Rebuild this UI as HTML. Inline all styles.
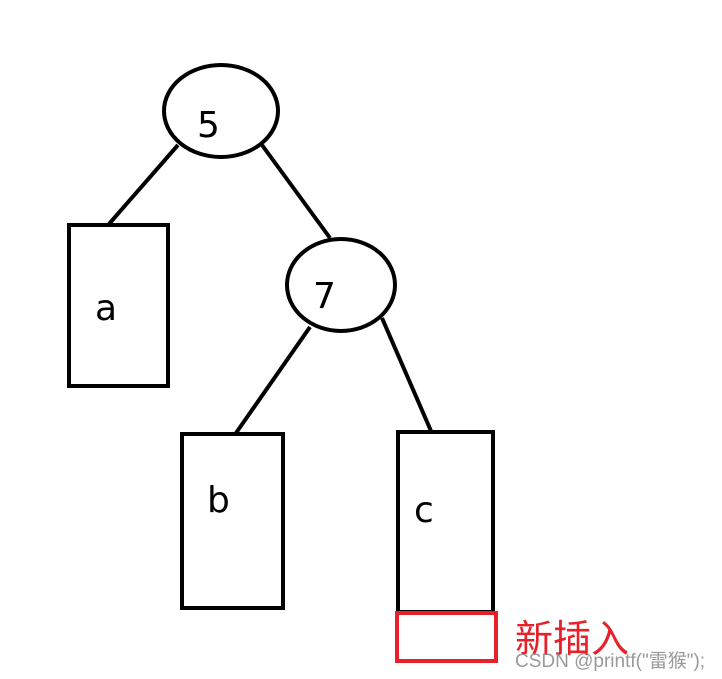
<!DOCTYPE html>
<html><head><meta charset="utf-8"><style>body{margin:0;background:#fff}</style></head><body>
<svg width="722" height="679" xmlns="http://www.w3.org/2000/svg" style="display:block">
<g fill="none" stroke="#000" stroke-width="4">
<ellipse cx="221" cy="111" rx="57" ry="46"/>
<ellipse cx="341" cy="285" rx="54" ry="46"/>
<rect x="69" y="225" width="99" height="161"/>
<rect x="182" y="434" width="101" height="174"/>
<rect x="398" y="432" width="95" height="180"/>
<line x1="178" y1="145" x2="109" y2="224"/>
<line x1="262" y1="145" x2="330" y2="238"/>
<line x1="310" y1="327" x2="236" y2="433"/>
<line x1="382" y1="318" x2="431" y2="431"/>
</g>
<rect x="397" y="613" width="99" height="48" fill="none" stroke="#e8202a" stroke-width="4"/>
<g font-family="'DejaVu Sans', sans-serif" font-size="36" fill="#000">
<text x="197" y="137">5</text>
<text x="313" y="308">7</text>
<text x="95" y="320">a</text>
<text x="207" y="512">b</text>
<text x="414" y="522">c</text>
</g>
<text x="515" y="652" font-family="'Liberation Sans','Noto Sans CJK SC',sans-serif" font-size="38" fill="#e8202a">新插入</text>
<text x="515" y="667" font-family="'Liberation Sans','Noto Sans CJK SC',sans-serif" font-size="19" fill="#888" opacity="0.85">CSDN @printf("雷猴");</text>
</svg>
</body></html>
